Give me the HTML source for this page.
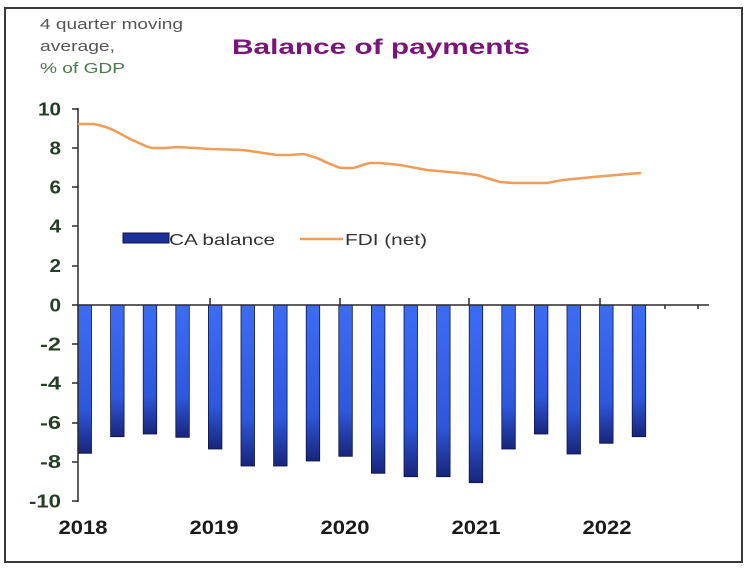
<!DOCTYPE html>
<html><head><meta charset="utf-8"><style>
html,body{margin:0;padding:0;background:#fff;}
svg{display:block;}
text{font-family:"Liberation Sans",Arial,sans-serif;}
</style></head><body>
<svg width="749" height="570" viewBox="0 0 749 570" xmlns="http://www.w3.org/2000/svg">
<defs>
<linearGradient id="bar" x1="0" y1="0" x2="0" y2="1">
<stop offset="0" stop-color="#3d6cf4"/>
<stop offset="0.7" stop-color="#2e58dc"/>
<stop offset="1" stop-color="#18257a"/>
</linearGradient>
</defs>
<rect x="0" y="0" width="749" height="570" fill="#fff"/>
<rect x="5" y="8" width="737" height="554" fill="#fff" stroke="#3a3a3a" stroke-width="2"/>

<!-- top-left notes -->
<text x="40" y="29" font-size="14.5" fill="#555" textLength="143" lengthAdjust="spacingAndGlyphs">4 quarter moving</text>
<text x="40" y="51" font-size="14.5" fill="#555" textLength="75" lengthAdjust="spacingAndGlyphs">average,</text>
<text x="40" y="73" font-size="14.5" fill="#4a7a4a" textLength="85" lengthAdjust="spacingAndGlyphs">% of GDP</text>

<!-- title -->
<text x="232" y="54" font-size="21" font-weight="bold" fill="#7a137a" textLength="298" lengthAdjust="spacingAndGlyphs">Balance of payments</text>

<!-- y labels -->
<g font-size="18" font-weight="bold" fill="#243f24" text-anchor="end">
<text x="61" y="115.5" textLength="23" lengthAdjust="spacingAndGlyphs">10</text>
<text x="61" y="154.5" textLength="11.5" lengthAdjust="spacingAndGlyphs">8</text>
<text x="61" y="193.5" textLength="11.5" lengthAdjust="spacingAndGlyphs">6</text>
<text x="61" y="232.5" textLength="11.5" lengthAdjust="spacingAndGlyphs">4</text>
<text x="61" y="272" textLength="11.5" lengthAdjust="spacingAndGlyphs">2</text>
<text x="61" y="311.5" textLength="11.5" lengthAdjust="spacingAndGlyphs">0</text>
<text x="61" y="350.5" textLength="21" lengthAdjust="spacingAndGlyphs">-2</text>
<text x="61" y="389.5" textLength="21" lengthAdjust="spacingAndGlyphs">-4</text>
<text x="61" y="429" textLength="21" lengthAdjust="spacingAndGlyphs">-6</text>
<text x="61" y="468" textLength="21" lengthAdjust="spacingAndGlyphs">-8</text>
<text x="61" y="507.5" textLength="32" lengthAdjust="spacingAndGlyphs">-10</text>
</g>

<!-- year labels -->
<g font-size="19" font-weight="bold" fill="#1a1a1a" text-anchor="middle">
<text x="83" y="534" textLength="49" lengthAdjust="spacingAndGlyphs">2018</text>
<text x="214" y="534" textLength="49" lengthAdjust="spacingAndGlyphs">2019</text>
<text x="345" y="534" textLength="49" lengthAdjust="spacingAndGlyphs">2020</text>
<text x="476" y="534" textLength="49" lengthAdjust="spacingAndGlyphs">2021</text>
<text x="607" y="534" textLength="49" lengthAdjust="spacingAndGlyphs">2022</text>
</g>

<!-- bars -->
<g stroke="#0c1448" stroke-width="0.8">
<rect x="78.0" y="305" width="13.5" height="148.3" fill="url(#bar)"/>
<rect x="110.6" y="305" width="13.5" height="131.7" fill="url(#bar)"/>
<rect x="143.2" y="305" width="13.5" height="129.0" fill="url(#bar)"/>
<rect x="175.8" y="305" width="13.5" height="132.3" fill="url(#bar)"/>
<rect x="208.4" y="305" width="13.5" height="144.0" fill="url(#bar)"/>
<rect x="241.0" y="305" width="13.5" height="161.0" fill="url(#bar)"/>
<rect x="273.6" y="305" width="13.5" height="161.0" fill="url(#bar)"/>
<rect x="306.2" y="305" width="13.5" height="156.0" fill="url(#bar)"/>
<rect x="338.8" y="305" width="13.5" height="151.3" fill="url(#bar)"/>
<rect x="371.4" y="305" width="13.5" height="168.3" fill="url(#bar)"/>
<rect x="404.0" y="305" width="13.5" height="171.7" fill="url(#bar)"/>
<rect x="436.6" y="305" width="13.5" height="171.7" fill="url(#bar)"/>
<rect x="469.2" y="305" width="13.5" height="177.7" fill="url(#bar)"/>
<rect x="501.8" y="305" width="13.5" height="144.0" fill="url(#bar)"/>
<rect x="534.4" y="305" width="13.5" height="129.0" fill="url(#bar)"/>
<rect x="567.0" y="305" width="13.5" height="149.0" fill="url(#bar)"/>
<rect x="599.6" y="305" width="13.5" height="138.3" fill="url(#bar)"/>
<rect x="632.2" y="305" width="13.5" height="131.7" fill="url(#bar)"/>
</g>

<!-- axes -->
<g stroke="#2a2a2a" stroke-width="1.5" fill="none">
<line x1="78" y1="108" x2="78" y2="502"/>
<line x1="78" y1="305" x2="709" y2="305"/>
<path d="M72 109H78M72 148H78M72 187H78M72 226H78M72 266H78M72 305H78M72 344H78M72 383H78M72 423H78M72 462H78M72 501H78"/>
<path d="M210 298V305M340 298V305M469 298V305M600 298V305M665 305V309M698 305V309"/>
</g>

<!-- FDI line -->
<path d="M79 124 L93 124 C100 125 108 127 117 132 C125 136 131 140 137 142 C143 145 147 147 152 148 L165 148 L177 147 L195 148 L210 149 L243 150 L257 152 L277 155 L290 155 L303 154 C309 155 313 157 317 158 C322 160 327 163 333 165 C337 167 340 168 343 168 L353 168 C360 166 365 164 370 163 L380 163 L400 165 L427 170 L460 173 L477 175 C484 177 493 180 500 182 L513 183 L547 183 C552 182 557 181 563 180 L593 177 L640 173" fill="none" stroke="#ef9d58" stroke-width="2.6" stroke-linejoin="round" stroke-linecap="round"/>

<!-- legend -->
<rect x="123" y="233" width="46" height="10" fill="#1f2f9a" stroke="#0c1448" stroke-width="1"/>
<text x="169" y="245" font-size="16" fill="#333" textLength="106" lengthAdjust="spacingAndGlyphs">CA balance</text>
<line x1="300" y1="239" x2="343" y2="239" stroke="#ef9d58" stroke-width="2.5"/>
<text x="345" y="245" font-size="16" fill="#333" textLength="82" lengthAdjust="spacingAndGlyphs">FDI (net)</text>
</svg>
</body></html>
